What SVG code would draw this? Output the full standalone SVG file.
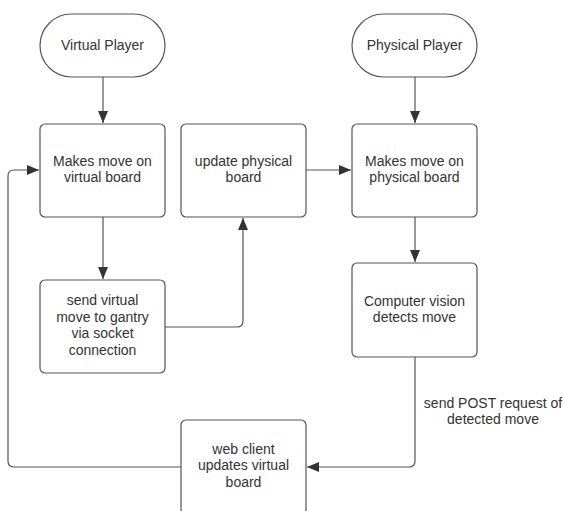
<svg xmlns="http://www.w3.org/2000/svg" width="563" height="511" viewBox="0 0 563 511">
  <style>
    .box { fill: #ffffff; stroke: #555555; stroke-width: 1.2; }
    .lbl { font-family: "Liberation Sans", Arial, sans-serif; font-size: 14px; fill: #333333; text-anchor: middle; }
    .edge { fill: none; stroke: #555555; stroke-width: 1.2; }
  </style>
  <defs>
    <marker id="arrow" viewBox="0 0 12 10" refX="12" refY="5" markerWidth="12" markerHeight="10" markerUnits="userSpaceOnUse" orient="auto">
      <path d="M0,0 L12,5 L0,10 Z" fill="#333333"/>
    </marker>
  </defs>
  <rect width="563" height="511" fill="#ffffff"/>

  <g id="connectors">
    <path class="edge" d="M103,77 V123" marker-end="url(#arrow)"/>
    <path class="edge" d="M415,77 V123" marker-end="url(#arrow)"/>
    <path class="edge" d="M103,217 V279" marker-end="url(#arrow)"/>
    <path class="edge" d="M165,327 H237 Q243,327 243,321 V218" marker-end="url(#arrow)"/>
    <path class="edge" d="M306,170 H351" marker-end="url(#arrow)"/>
    <path class="edge" d="M415,217 V262" marker-end="url(#arrow)"/>
    <path class="edge" d="M415,357 V461 Q415,467 409,467 H307" marker-end="url(#arrow)"/>
    <path class="edge" d="M181,467 H14 Q8,467 8,461 V176 Q8,170 14,170 H39" marker-end="url(#arrow)"/>
    <text class="lbl" x="493" y="408">send POST request of</text>
    <text class="lbl" x="493" y="424">detected move</text>
  </g>

  <g id="virtual-player">
    <rect class="box" x="40" y="14" width="125" height="63" rx="31.5"/>
    <text class="lbl" x="102.5" y="50">Virtual Player</text>
  </g>
  <g id="physical-player">
    <rect class="box" x="352" y="14" width="125" height="63" rx="31.5"/>
    <text class="lbl" x="414.5" y="50">Physical Player</text>
  </g>
  <g id="virtual-move">
    <rect class="box" x="40" y="124" width="125" height="93" rx="5"/>
    <text class="lbl" x="102.5" y="166">Makes move on</text>
    <text class="lbl" x="102.5" y="182">virtual board</text>
  </g>
  <g id="update-physical">
    <rect class="box" x="181" y="124" width="125" height="93" rx="5"/>
    <text class="lbl" x="243.5" y="166">update physical</text>
    <text class="lbl" x="243.5" y="182">board</text>
  </g>
  <g id="physical-move">
    <rect class="box" x="352" y="124" width="125" height="93" rx="5"/>
    <text class="lbl" x="414.5" y="166">Makes move on</text>
    <text class="lbl" x="414.5" y="182">physical board</text>
  </g>
  <g id="send-virtual">
    <rect class="box" x="40" y="280" width="125" height="93" rx="5"/>
    <text class="lbl" x="102.5" y="305">send virtual</text>
    <text class="lbl" x="102.5" y="322">move to gantry</text>
    <text class="lbl" x="102.5" y="338">via socket</text>
    <text class="lbl" x="102.5" y="355">connection</text>
  </g>
  <g id="computer-vision">
    <rect class="box" x="352" y="263" width="125" height="94" rx="5"/>
    <text class="lbl" x="414.5" y="306">Computer vision</text>
    <text class="lbl" x="414.5" y="322">detects move</text>
  </g>
  <g id="web-client">
    <rect class="box" x="181" y="420" width="125" height="94" rx="5"/>
    <text class="lbl" x="243.5" y="454">web client</text>
    <text class="lbl" x="243.5" y="470">updates virtual</text>
    <text class="lbl" x="243.5" y="487">board</text>
  </g>
</svg>
